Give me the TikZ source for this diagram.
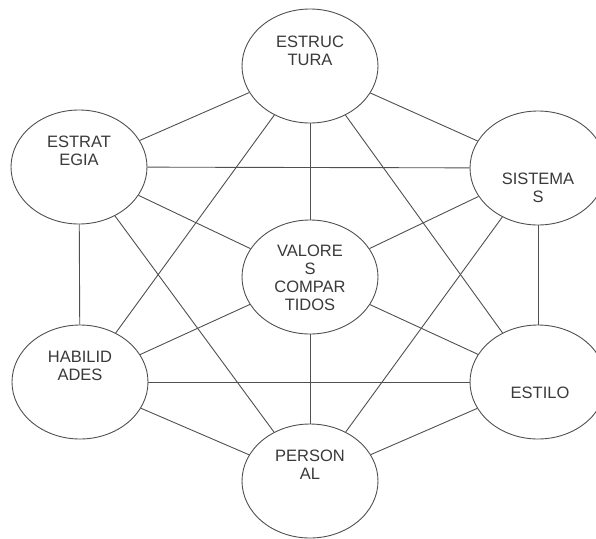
\documentclass[tikz,border=0pt]{standalone}
\usepackage{fontspec}
\setmainfont{Liberation Sans}
\usetikzlibrary{shapes.geometric}
\definecolor{linec}{HTML}{505050}
\definecolor{textc}{HTML}{3A3A3A}
\begin{document}
\begin{tikzpicture}[x=1pt,y=-1pt,
  ov/.style={ellipse, draw=linec, line width=0.9pt, minimum width=136pt, minimum height=114pt, inner sep=0pt, fill=white},
  lbl/.style={font=\fontsize{16.5}{18}\selectfont, text=textc, align=center, inner sep=0pt},
  con/.style={draw=linec, line width=0.9pt}]
\useasboundingbox (0,0) rectangle (596,538);
% connectors first (drawn between named nodes below)
\node[ov] (tura) at (310,66) {};
\node[ov] (estr) at (79,167) {};
\node[ov] (sist) at (538,168) {};
\node[ov] (val)  at (310,277) {};
\node[ov] (hab)  at (80,382) {};
\node[ov] (esti) at (538,382) {};
\node[ov] (pers) at (310,481) {};
\begin{scope}[on background layer/.style={}]
\draw[con] (tura) -- (estr);
\draw[con] (tura) -- (sist);
\draw[con] (tura) -- (val);
\draw[con] (tura) -- (hab);
\draw[con] (tura) -- (esti);
\draw[con] (estr) -- (sist);
\draw[con] (estr) -- (val);
\draw[con] (estr) -- (hab);
\draw[con] (estr) -- (pers);
\draw[con] (sist) -- (val);
\draw[con] (sist) -- (esti);
\draw[con] (sist) -- (pers);
\draw[con] (val) -- (hab);
\draw[con] (val) -- (esti);
\draw[con] (val) -- (pers);
\draw[con] (hab) -- (esti);
\draw[con] (hab) -- (pers);
\draw[con] (esti) -- (pers);
\end{scope}
\node[lbl] (ttura) at (310,51) {ESTRUC\\TURA};
\node[lbl] (testr) at (79,151) {ESTRAT\\EGIA};
\node[lbl] (tsist) at (538,188) {SISTEMA\\S};
\node[lbl] (tval)  at (310,278) {VALORE\\S\\COMPAR\\TIDOS};
\node[lbl] (thab)  at (80,366) {HABILID\\ADES};
\node[lbl] (testi) at (540,393) {ESTILO};
\node[lbl] (tpers) at (310,465) {PERSON\\AL};
\end{tikzpicture}
\end{document}
